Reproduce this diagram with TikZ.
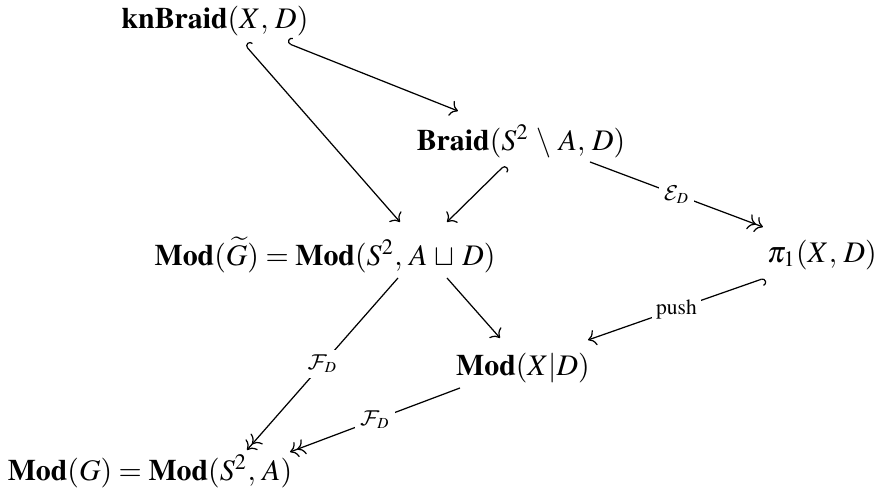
\documentclass[tikz,border=0pt]{standalone}
\usepackage{mathptmx}
\DeclareMathAlphabet{\mathcal}{OMS}{cmsy}{m}{n}
\usetikzlibrary{arrows.meta}
\begin{document}
\begin{tikzpicture}[x=0.01143cm,y=-0.01143cm, >={To},
  obj/.style={inner sep=0pt, font=\fontsize{9.7}{11}\selectfont},
  lbl/.style={fill=white, inner sep=1.5pt, font=\scriptsize},
  hk/.style={arrows={Hooks[right]-To}},
  two/.style={->>},
  one/.style={->}]
\useasboundingbox (0,0) rectangle (879,493);
\node[obj] (kn) at (215,21) {$\mathbf{knBraid}(X,\,D)$};
\node[obj] (br) at (521,141) {$\mathbf{Braid}(S^2\,\setminus\,A,\,D)$};
\node[obj] (mgt) at (325,255) {$\mathbf{Mod}(\widetilde{G})=\mathbf{Mod}(S^2,\,A\,\sqcup\,D)$};
\node[obj] (pi) at (822,255) {$\pi_1(X,\,D)$};
\node[obj] (mxd) at (523,368) {$\mathbf{Mod}(X|D)$};
\node[obj] (mg) at (150,471) {$\mathbf{Mod}(G)=\mathbf{Mod}(S^2,\,A)$};

\draw[hk] ([shift={(72,22)}]kn.center) -- ([shift={(-63,-30)}]br.center);
\draw[hk] ([shift={(30,24)}]kn.center) -- ([shift={(75,-33)}]mgt.center);
\draw[hk] ([shift={(-16,24)}]br.center) -- ([shift={(122,-33)}]mgt.center);
\draw[two] ([shift={(69,21)}]br.center) -- node[lbl]{$\mathcal{E}_D$} ([shift={(-59,-28)}]pi.center);
\draw[hk] ([shift={(-57,23)}]pi.center) -- node[lbl]{$\mathrm{push}$} ([shift={(65,-28)}]mxd.center);
\draw[one] ([shift={(122,23)}]mgt.center) -- ([shift={(-23,-30)}]mxd.center);
\draw[two] ([shift={(73,23)}]mgt.center) -- node[lbl]{$\mathcal{F}_D$} ([shift={(97,-21)}]mg.center);
\draw[two] ([shift={(-63,20)}]mxd.center) -- node[lbl]{$\mathcal{F}_D$} ([shift={(140,-19)}]mg.center);
\end{tikzpicture}
\end{document}
